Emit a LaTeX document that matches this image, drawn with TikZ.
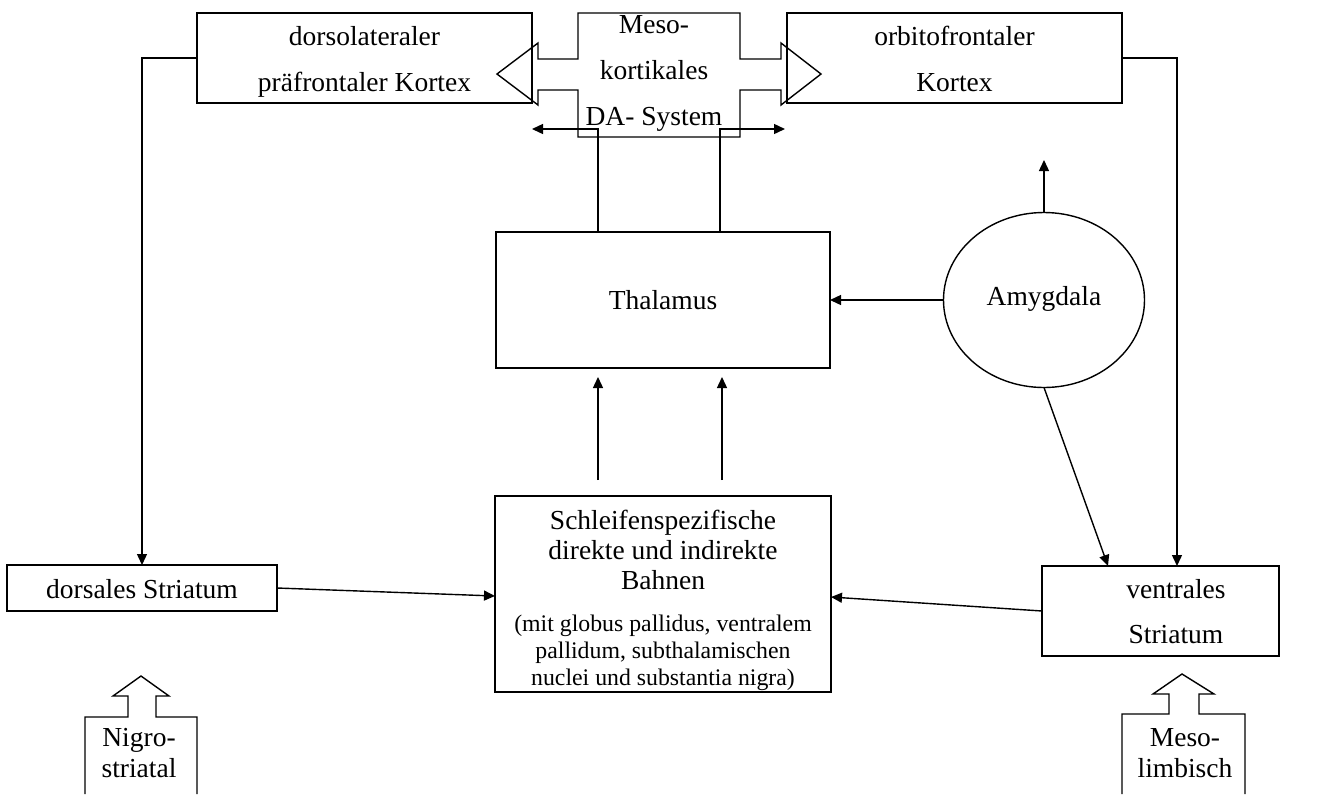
\documentclass[tikz,border=0pt]{standalone}
\usepackage{fontspec}
\setmainfont{Liberation Serif}
\usetikzlibrary{arrows.meta,shapes.geometric}

\begin{document}
\begin{tikzpicture}[x=0.5pt,y=-0.5pt,
  box/.style={draw,line width=0.8pt,rectangle,inner sep=0pt,outer sep=0pt},
  oval/.style={draw,line width=0.7pt,ellipse,inner sep=0pt,outer sep=0pt},
  lbl/.style={anchor=base,inner sep=0pt,font=\fontsize{13.75}{16}\selectfont},
  small/.style={anchor=base,inner sep=0pt,font=\fontsize{11.9}{14}\selectfont},
  link/.style={line width=0.7pt},
  arr/.style={line width=0.7pt,-{Triangle[length=5.5pt,width=5pt]}},
  block/.style={draw,line width=0.7pt,line join=miter}]

\useasboundingbox (0,0) rectangle (1319,794);

% boxes
\node[box,minimum width=167.5pt,minimum height=45pt] (dl) at (364.5,58) {};
\node[box,minimum width=167.5pt,minimum height=45pt] (of) at (954.5,58) {};
\node[box,minimum width=167pt,minimum height=68pt] (th) at (663,300) {};
\node[box,minimum width=168pt,minimum height=98pt] (sch) at (663,594) {};
\node[box,minimum width=135pt,minimum height=23pt] (ds) at (142,588) {};
\node[box,minimum width=118.5pt,minimum height=45pt] (vs) at (1160.5,611) {};
\node[oval,minimum width=100.5pt,minimum height=87.5pt] (am) at (1044,300) {};

% labels
\node[lbl] (dlA) at (364.5,45) {dorsolateraler};
\node[lbl] (dlB) at (364.5,91) {präfrontaler Kortex};
\node[lbl] (ofA) at (954.5,45) {orbitofrontaler};
\node[lbl] (ofB) at (954.5,91) {Kortex};
\node[lbl] (mkA) at (654,33) {Meso-};
\node[lbl] (mkB) at (654,79) {kortikales};
\node[lbl] (mkC) at (654,125) {DA- System};
\node[lbl] (thA) at (663,309) {Thalamus};
\node[lbl] (amA) at (1044,305) {Amygdala};
\node[lbl] (dsA) at (142,598) {dorsales Striatum};
\node[lbl] (vsA) at (1176,598) {ventrales};
\node[lbl] (vsB) at (1176,643) {Striatum};
\node[lbl] (schA) at (663,529) {Schleifenspezifische};
\node[lbl] (schB) at (663,559) {direkte und indirekte};
\node[lbl] (schC) at (663,589) {Bahnen};
\node[small] (schD) at (663,631) {(mit globus pallidus, ventralem};
\node[small] (schE) at (663,658) {pallidum, subthalamischen};
\node[small] (schF) at (663,685) {nuclei und substantia nigra)};
\node[lbl] (nsA) at (139,746) {Nigro-};
\node[lbl] (nsB) at (139,777) {striatal};
\node[lbl] (mlA) at (1185,746) {Meso-};
\node[lbl] (mlB) at (1185,777) {limbisch};

% mesocortical double block arrow
\draw[block] (578,13) -- (740,13) -- (740,59) -- (781,59) -- (781,43) -- (821,74)
  -- (781,105) -- (781,90) -- (740,90) -- (740,137) -- (578,137) -- (578,90)
  -- (538,90) -- (538,105) -- (497,74) -- (538,43) -- (538,59) -- (578,59) -- cycle;

% nigrostriatal and mesolimbic block arrows
\draw[block] (85,794) -- (85,717) -- (128,717) -- (128,696) -- (113,696) -- (141,676)
  -- (169,696) -- (156,696) -- (156,717) -- (197,717) -- (197,794);
\draw[block] (1122,794) -- (1122,714) -- (1169,714) -- (1169,694) -- (1153,694) -- (1182,674)
  -- (1214,694) -- (1199,694) -- (1199,714) -- (1245,714) -- (1245,794);

% helper coordinates
\coordinate (upL) at (532,129);
\coordinate (upR) at (785,129);
\coordinate (amUp) at (1044,160);
\coordinate (ax) at (1108,0);
\coordinate (rx) at (1177,0);

% connectors
\draw[arr] (dl.west) -| (ds.north);
\draw[arr] (of.east) -| (vs.north -| rx);
\draw[arr] (ds.east) -- ([yshift=-1pt]sch.west);
\draw[arr] (vs.west) -- ([yshift=-1.5pt]sch.east);
\draw[arr] (am.west) -- (th.east);
\draw[arr] (am.north) -- (amUp);
\draw[arr] (am.south) -- (vs.north -| ax);
\draw[arr] ([xshift=-32.5pt]th.north) |- (upL);
\draw[arr] ([xshift=28.5pt]th.north) |- (upR);
\draw[arr,shorten <=8pt,shorten >=4.5pt] ([xshift=-32.5pt]sch.north) -- ([xshift=-32.5pt]th.south);
\draw[arr,shorten <=8pt,shorten >=4.5pt] ([xshift=29.5pt]sch.north) -- ([xshift=29.5pt]th.south);

\end{tikzpicture}
\end{document}
